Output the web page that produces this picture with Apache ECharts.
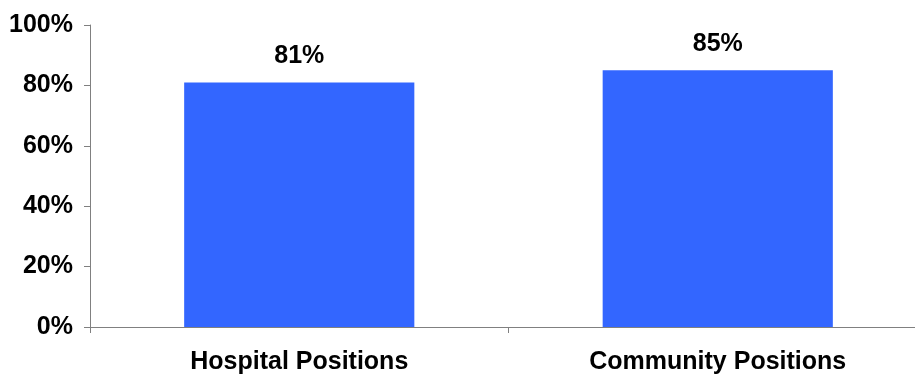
<!DOCTYPE html>
<html>
<head>
<meta charset="utf-8">
<script src="https://cdn.jsdelivr.net/npm/echarts@6/dist/echarts.min.js"></script>
<style>
html,body{margin:0;padding:0;background:#fff;overflow:hidden;}
#chart{width:940px;height:377px;}
</style>
</head>
<body>
<div id="chart"></div>
<script>
const categories = ["Hospital Positions", "Community Positions"];
const values = [81, 85];
const yTicks = [0, 20, 40, 60, 80, 100];

const chart = echarts.init(document.getElementById('chart'), null, {renderer: 'canvas'});
const font = '"Liberation Sans", Arial, sans-serif';
chart.setOption({
  animation: false,
  backgroundColor: '#ffffff',
  grid: {left: 90, top: 25, right: 13, height: 302, containLabel: false},
  xAxis: {
    type: 'category',
    data: categories,
    axisLine: {lineStyle: {color: '#808080', width: 1}},
    axisTick: {show: true, length: 6, alignWithLabel: false, lineStyle: {color: '#808080'}},
    axisLabel: {margin: 23, color: '#000', fontSize: 25, fontWeight: 'bold', fontFamily: font}
  },
  yAxis: {
    type: 'value',
    min: yTicks[0], max: yTicks[yTicks.length - 1], interval: 20,
    axisLine: {show: true, lineStyle: {color: '#808080', width: 1}},
    axisTick: {show: true, length: 6, lineStyle: {color: '#808080'}},
    splitLine: {show: false},
    axisLabel: {margin: 17, color: '#000', fontSize: 25, fontWeight: 'bold', fontFamily: font,
      formatter: v => v + '%'}
  },
  series: [{
    type: 'bar',
    data: values,
    barWidth: '55%',
    itemStyle: {color: '#3366FF'},
    label: {show: true, position: 'top', distance: 14, color: '#000', fontSize: 25, fontWeight: 'bold', fontFamily: font,
      formatter: p => p.value + '%'}
  }]
});
</script>
</body>
</html>
